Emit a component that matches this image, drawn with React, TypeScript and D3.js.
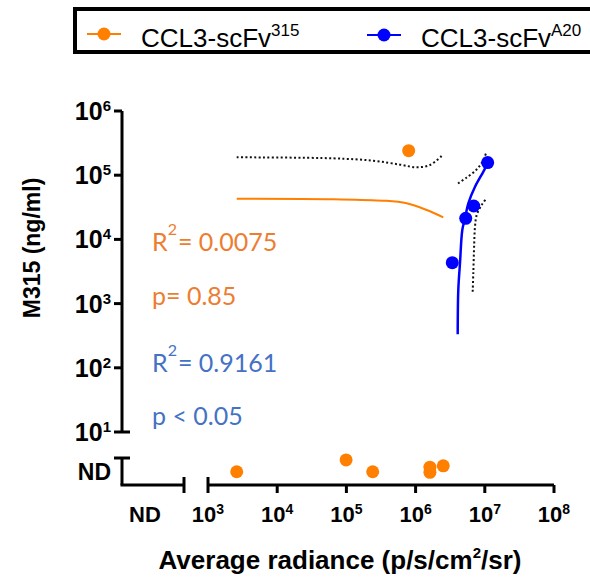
import { line, curveCatmullRom, scaleLinear, scaleLog } from "d3";

// series: CCL3-scFv315 (orange), CCL3-scFvA20 (blue)
const orangeX = [7.94e5];
const orangeY = [2.41e5];
const orangeNdX = [2600, 9.9e4, 2.4e5, 1.61e6, 1.61e6, 2.51e6];
const orangeNdJitter = [0.49, 0.93, 0.49, 0.47, 0.66, 0.71];

const blueX = [3.39e6, 5.3e6, 6.92e6, 1.1e7];
const blueY = [4340, 21300, 33100, 1.57e5];

// fit lines + 95% bands
const orangeFitX = [2600, 6.47e4, 3.41e5, 7.43e5, 1.45e6, 2.51e6];
const orangeFitY = [43000, 42200, 40100, 36500, 28700, 22100];
const orangeUpperX = [2600, 6.47e4, 2.45e5, 5.96e5, 1.04e6, 1.61e6, 2.48e6];
const orangeUpperY = [1.9e5, 1.83e5, 1.68e5, 1.46e5, 1.33e5, 1.44e5, 2.08e5];

const blueFitX = [4.06e6, 4.14e6, 4.38e6, 4.73e6, 5.17e6, 5.78e6, 7.22e6, 9.5e6, 1.12e7];
const blueFitY = [333, 1630, 4250, 14000, 21300, 36500, 66200, 1.13e5, 1.57e5];
const blueUpperX = [4.1e6, 5.47e6, 7.46e6, 9.02e6, 1.06e7];
const blueUpperY = [74300, 92000, 1.2e5, 1.55e5, 2.3e5];
const blueLowerX = [6.68e6, 6.82e6, 6.98e6, 7.22e6, 7.64e6, 9.02e6, 1.06e7];
const blueLowerY = [1530, 2960, 6840, 15800, 24000, 34400, 43700];

const xTicks = [1e3, 1e4, 1e5, 1e6, 1e7, 1e8];
const xTickExp = ["3", "4", "5", "6", "7", "8"];
const yTicks = [1e1, 1e2, 1e3, 1e4, 1e5, 1e6];
const yTickExp = ["1", "2", "3", "4", "5", "6"];

const ORANGE = "#ff8000";
const BLUE = "#0000ff";
const TXT_ORANGE = "#ed7d31";
const TXT_BLUE = "#4472c4";
const AX = "Liberation Sans, Arial, sans-serif";
const NOTE = "Lato, Carlito, sans-serif";

const x = scaleLog().domain([1e3, 1e8]).range([208, 554]);
const y = scaleLog().domain([1e1, 1e6]).range([432, 111]);
const yNd = scaleLinear().domain([0, 1]).range([485, 458]);
const ndLeft = 122;
const ndRight = 184;

const zip = (xs: number[], ys: number[]) => xs.map((v, i) => [v, ys[i]] as [number, number]);

const path = line<[number, number]>()
  .x((d) => x(d[0]))
  .y((d) => y(d[1]))
  .curve(curveCatmullRom);

export default function App() {
  const [x0, x1] = x.range();
  const [yb, yt] = y.range();
  const axisW = 3;

  return (
    <svg width={590} height={580} style={{ position: "absolute", left: 0, top: 0 }}>
      <rect width={590} height={580} fill="white" />

      {/* legend */}
      <rect x={75} y={9} width={560} height={43} fill="none" stroke="black" strokeWidth={4} />
      <g>
        <line x1={87} x2={121} y1={34} y2={34} stroke={ORANGE} strokeWidth={2} />
        <circle cx={104} cy={34} r={6.5} fill={ORANGE} />
        <text x={141} y={47} fontFamily={AX} fontSize={26}>
          CCL3-scFv<tspan dy={-11} fontSize={17}>315</tspan>
        </text>
        <line x1={367} x2={401} y1={35} y2={35} stroke={BLUE} strokeWidth={2} />
        <circle cx={384} cy={35} r={6.5} fill={BLUE} />
        <text x={421} y={47} fontFamily={AX} fontSize={26}>
          CCL3-scFv<tspan dy={-11} fontSize={17}>A20</tspan>
        </text>
      </g>

      {/* y axis, main segment */}
      <g stroke="black" strokeWidth={axisW} fill="none">
        <line x1={ndLeft} x2={ndLeft} y1={yt} y2={yb} />
        {yTicks.slice(1).map((t) => (
          <line key={t} x1={ndLeft - 8} x2={ndLeft} y1={y(t)} y2={y(t)} />
        ))}
        <line x1={ndLeft - 8} x2={ndLeft + 8} y1={yb} y2={yb} />
        {/* y axis ND segment */}
        <line x1={ndLeft} x2={ndLeft} y1={yNd(1)} y2={yNd(0)} />
        <line x1={ndLeft - 8} x2={ndLeft + 8} y1={yNd(1)} y2={yNd(1)} />
        {/* x axis ND segment */}
        <line x1={ndLeft - axisW / 2} x2={ndRight} y1={yNd(0)} y2={yNd(0)} />
        <line x1={ndRight} x2={ndRight} y1={yNd(0) - 8} y2={yNd(0) + 8} />
        {/* x axis main segment */}
        <line x1={x0} x2={x1} y1={yNd(0)} y2={yNd(0)} />
        <line x1={x0} x2={x0} y1={yNd(0) - 8} y2={yNd(0) + 8} />
        {xTicks.slice(1).map((t) => (
          <line key={t} x1={x(t)} x2={x(t)} y1={yNd(0)} y2={yNd(0) + 8} />
        ))}
      </g>

      {/* tick labels */}
      <g fontFamily={AX} fontWeight="bold" fill="black">
        {yTicks.map((t, i) => (
          <text key={t} x={111} y={y(t) + 9} textAnchor="end" fontSize={25}>
            10<tspan dy={-9} fontSize={15}>{yTickExp[i]}</tspan>
          </text>
        ))}
        <text x={111} y={(yNd(0) + yNd(1)) / 2 + 8} textAnchor="end" fontSize={23}>ND</text>
        {xTicks.map((t, i) => (
          <text key={t} x={x(t)} y={522} textAnchor="middle" fontSize={22}>
            10<tspan dy={-8} fontSize={14}>{xTickExp[i]}</tspan>
          </text>
        ))}
        <text x={145} y={522} textAnchor="middle" fontSize={22}>ND</text>
      </g>

      {/* axis titles */}
      <text
        transform={`translate(40,248) rotate(-90)`}
        textAnchor="middle"
        fontFamily={AX}
        fontWeight="bold"
        fontSize={23}
      >
        M315 (ng/ml)
      </text>
      <text x={340} y={569} textAnchor="middle" fontFamily={AX} fontWeight="bold" fontSize={26}>
        Average radiance (p/s/cm<tspan dy={-11} fontSize={15}>2</tspan>
        <tspan dy={11}>/sr)</tspan>
      </text>

      {/* confidence bands */}
      <g fill="none" stroke="#111" strokeWidth={2} strokeDasharray="2 2.4">
        <path d={path(zip(orangeUpperX, orangeUpperY)) ?? ""} />
        <path d={path(zip(blueUpperX, blueUpperY)) ?? ""} />
        <path d={path(zip(blueLowerX, blueLowerY)) ?? ""} />
      </g>

      {/* fits */}
      <path d={path(zip(orangeFitX, orangeFitY)) ?? ""} fill="none" stroke={ORANGE} strokeWidth={2} />
      <path d={path(zip(blueFitX, blueFitY)) ?? ""} fill="none" stroke={BLUE} strokeWidth={2.5} />

      {/* points */}
      {orangeX.map((v, i) => (
        <circle key={"o" + i} cx={x(v)} cy={y(orangeY[i])} r={6.5} fill={ORANGE} />
      ))}
      {orangeNdX.map((v, i) => (
        <circle key={"n" + i} cx={x(v)} cy={yNd(orangeNdJitter[i])} r={6.5} fill={ORANGE} />
      ))}
      {blueX.map((v, i) => (
        <circle key={"b" + i} cx={x(v)} cy={y(blueY[i])} r={6.5} fill={BLUE} />
      ))}

      {/* stats annotations */}
      <g fontFamily={NOTE} fontSize={25}>
        <text x={152} y={251} fill={TXT_ORANGE}>
          R<tspan dy={-16} fontSize={16}>2</tspan>
          <tspan dx={1} dy={16}>= 0.0075</tspan>
        </text>
        <text x={152} y={305} fill={TXT_ORANGE}>p= 0.85</text>
        <text x={152} y={372} fill={TXT_BLUE}>
          R<tspan dy={-16} fontSize={16}>2</tspan>
          <tspan dx={1} dy={16}>= 0.9161</tspan>
        </text>
        <text x={152} y={425} fill={TXT_BLUE}>p &lt; 0.05</text>
      </g>
    </svg>
  );
}
